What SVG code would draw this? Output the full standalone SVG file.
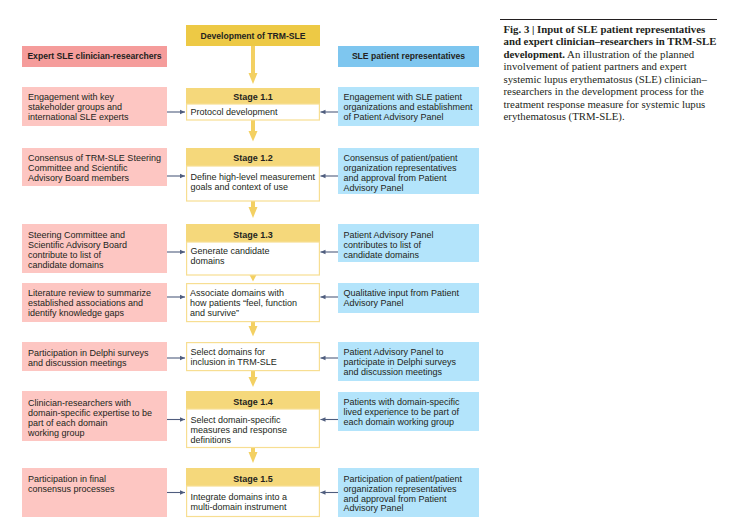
<svg xmlns="http://www.w3.org/2000/svg" width="737" height="525" viewBox="0 0 737 525">
<style>
.red{fill:#FDC6C2}
.blue{fill:#B3E4FB}
.sh{fill:#F5D87B}
.sw{fill:#fff;stroke:#F7DE92;stroke-width:1.2}
.t{font-family:"Liberation Sans",Arial,sans-serif;font-size:9px;fill:#231F20}
.b{font-family:"Liberation Sans",Arial,sans-serif;font-size:9px;font-weight:bold;fill:#231F20}
.hb{font-family:"Liberation Sans",Arial,sans-serif;font-size:8.6px;font-weight:bold;fill:#231F20}
.cap{font-family:"Liberation Serif","Times New Roman",serif;font-size:10.8px;fill:#231F20}
.capb{font-weight:bold}
.ya{stroke:#F3D062;stroke-width:4;fill:none}
.ga{stroke:#4F5D7E;stroke-width:1.1;fill:none}
</style>
<defs>
<marker id="ah" markerWidth="6" markerHeight="6" refX="5" refY="3" orient="auto" markerUnits="userSpaceOnUse">
<path d="M0,0.8 L5,3 L0,5.2 Z" fill="#4F5D7E"/>
</marker>
</defs>
<rect width="737" height="525" fill="#fff"/>

<g id="header-dev">
<rect x="186" y="25" width="134" height="21" fill="#EDC945"/>
<text class="hb" x="253" y="38.5" text-anchor="middle">Development of TRM-SLE</text>
</g>
<g id="header-expert">
<rect x="22" y="46" width="145" height="21" fill="#F59C9B"/>
<text class="hb" x="94.5" y="59" text-anchor="middle">Expert SLE clinician-researchers</text>
</g>
<g id="header-patient">
<rect x="338" y="46" width="141" height="21" fill="#7EC6EF"/>
<text class="hb" x="408.5" y="59" text-anchor="middle">SLE patient representatives</text>
</g>

<g id="connectors">
<g id="yellow-arrows" fill="#F3D062">
<line class="ya" x1="253" y1="46" x2="253" y2="77"/><path d="M248.5,73 L257.5,73 L253,84 Z"/>
<line class="ya" x1="253" y1="120" x2="253" y2="134"/><path d="M248.5,131 L257.5,131 L253,141.5 Z"/>
<line class="ya" x1="253" y1="201" x2="253" y2="210"/><path d="M248.5,207 L257.5,207 L253,218 Z"/>
<path d="M248.5,273 L257.5,273 L253,281.5 Z"/>
<line class="ya" x1="253" y1="322" x2="253" y2="329"/><path d="M248.5,326 L257.5,326 L253,336.5 Z"/>
<line class="ya" x1="253" y1="371" x2="253" y2="380"/><path d="M248.5,377 L257.5,377 L253,387 Z"/>
<line class="ya" x1="253" y1="448" x2="253" y2="455"/><path d="M248.5,452 L257.5,452 L253,463 Z"/>
</g>
<g id="side-arrows">
<line class="ga" x1="167" y1="112" x2="185" y2="112" marker-end="url(#ah)"/>
<line class="ga" x1="338" y1="112" x2="320.5" y2="112" marker-end="url(#ah)"/>
<line class="ga" x1="167" y1="176" x2="185" y2="176" marker-end="url(#ah)"/>
<line class="ga" x1="338" y1="176" x2="320.5" y2="176" marker-end="url(#ah)"/>
<line class="ga" x1="167" y1="252" x2="185" y2="252" marker-end="url(#ah)"/>
<line class="ga" x1="338" y1="252" x2="320.5" y2="252" marker-end="url(#ah)"/>
<line class="ga" x1="167" y1="297" x2="185" y2="297" marker-end="url(#ah)"/>
<line class="ga" x1="338" y1="297" x2="320.5" y2="297" marker-end="url(#ah)"/>
<line class="ga" x1="167" y1="358" x2="185" y2="358" marker-end="url(#ah)"/>
<line class="ga" x1="338" y1="358" x2="320.5" y2="358" marker-end="url(#ah)"/>
<line class="ga" x1="167" y1="419.5" x2="185" y2="419.5" marker-end="url(#ah)"/>
<line class="ga" x1="338" y1="419.5" x2="320.5" y2="419.5" marker-end="url(#ah)"/>
<line class="ga" x1="167" y1="492.5" x2="185" y2="492.5" marker-end="url(#ah)"/>
<line class="ga" x1="338" y1="492.5" x2="320.5" y2="492.5" marker-end="url(#ah)"/>
</g>
</g>

<!-- Row 1 -->
<g id="expert-1">
<rect class="red" x="22" y="87" width="145" height="39"/>
<text class="t" x="28" y="100">Engagement with key</text>
<text class="t" x="28" y="110">stakeholder groups and</text>
<text class="t" x="28" y="120">international SLE experts</text>
</g>
<g id="stage-1-1">
<rect class="sh" x="186" y="88" width="134" height="16"/>
<rect class="sw" x="186.6" y="104" width="132.8" height="16"/>
<text class="b" x="253" y="99.5" text-anchor="middle">Stage 1.1</text>
<text class="t" x="190.5" y="115">Protocol development</text>
</g>
<g id="patient-1">
<rect class="blue" x="338" y="87" width="141" height="39"/>
<text class="t" x="343.5" y="99.5">Engagement with SLE patient</text>
<text class="t" x="343.5" y="109.5">organizations and establishment</text>
<text class="t" x="343.5" y="119.5">of Patient Advisory Panel</text>
</g>

<!-- Row 2 -->
<g id="expert-2">
<rect class="red" x="22" y="148" width="145" height="38"/>
<text class="t" x="28" y="160.5">Consensus of TRM-SLE Steering</text>
<text class="t" x="28" y="170.5">Committee and Scientific</text>
<text class="t" x="28" y="180.5">Advisory Board members</text>
</g>
<g id="stage-1-2">
<rect class="sh" x="186" y="148" width="134" height="18"/>
<rect class="sw" x="186.6" y="166" width="132.8" height="35"/>
<text class="b" x="253" y="161" text-anchor="middle">Stage 1.2</text>
<text class="t" x="190.5" y="180">Define high-level measurement</text>
<text class="t" x="190.5" y="190">goals and context of use</text>
</g>
<g id="patient-2">
<rect class="blue" x="338" y="148" width="141" height="46"/>
<text class="t" x="343.5" y="160.5">Consensus of patient/patient</text>
<text class="t" x="343.5" y="170.5">organization representatives</text>
<text class="t" x="343.5" y="180.5">and approval from Patient</text>
<text class="t" x="343.5" y="190.5">Advisory Panel</text>
</g>

<!-- Row 3 -->
<g id="expert-3">
<rect class="red" x="22" y="224" width="145" height="49"/>
<text class="t" x="28" y="237.5">Steering Committee and</text>
<text class="t" x="28" y="247.5">Scientific Advisory Board</text>
<text class="t" x="28" y="257.5">contribute to list of</text>
<text class="t" x="28" y="267.5">candidate domains</text>
</g>
<g id="stage-1-3">
<rect class="sh" x="186" y="224" width="134" height="18"/>
<rect class="sw" x="186.6" y="242" width="132.8" height="33"/>
<text class="b" x="253" y="237.5" text-anchor="middle">Stage 1.3</text>
<text class="t" x="190.5" y="253.5">Generate candidate</text>
<text class="t" x="190.5" y="263.5">domains</text>
</g>
<g id="patient-3">
<rect class="blue" x="338" y="224" width="141" height="38"/>
<text class="t" x="343.5" y="237.5">Patient Advisory Panel</text>
<text class="t" x="343.5" y="247.5">contributes to list of</text>
<text class="t" x="343.5" y="257.5">candidate domains</text>
</g>

<!-- Row 4 -->
<g id="expert-4">
<rect class="red" x="22" y="283" width="145" height="39"/>
<text class="t" x="28" y="295.5">Literature review to summarize</text>
<text class="t" x="28" y="305.5">established associations and</text>
<text class="t" x="28" y="315.5">identify knowledge gaps</text>
</g>
<g id="step-associate">
<rect class="sw" x="186.6" y="283.6" width="132.8" height="38"/>
<text class="t" x="190" y="295.5">Associate domains with</text>
<text class="t" x="190" y="305.5">how patients “feel, function</text>
<text class="t" x="190" y="315.5">and survive”</text>
</g>
<g id="patient-4">
<rect class="blue" x="338" y="283" width="141" height="30"/>
<text class="t" x="343.5" y="295.5">Qualitative input from Patient</text>
<text class="t" x="343.5" y="305.5">Advisory Panel</text>
</g>

<!-- Row 5 -->
<g id="expert-5">
<rect class="red" x="22" y="342" width="145" height="29"/>
<text class="t" x="28" y="356">Participation in Delphi surveys</text>
<text class="t" x="28" y="366">and discussion meetings</text>
</g>
<g id="step-select">
<rect class="sw" x="186.6" y="342.6" width="132.8" height="28"/>
<text class="t" x="190.5" y="355">Select domains for</text>
<text class="t" x="190.5" y="365">inclusion in TRM-SLE</text>
</g>
<g id="patient-5">
<rect class="blue" x="338" y="342" width="141" height="39"/>
<text class="t" x="343.5" y="355">Patient Advisory Panel to</text>
<text class="t" x="343.5" y="365">participate in Delphi surveys</text>
<text class="t" x="343.5" y="375">and discussion meetings</text>
</g>

<!-- Row 6 -->
<g id="expert-6">
<rect class="red" x="22" y="391" width="145" height="50"/>
<text class="t" x="28" y="405.5">Clinician-researchers with</text>
<text class="t" x="28" y="415.5">domain-specific expertise to be</text>
<text class="t" x="28" y="425.5">part of each domain</text>
<text class="t" x="28" y="435.5">working group</text>
</g>
<g id="stage-1-4">
<rect class="sh" x="186" y="391" width="134" height="18"/>
<rect class="sw" x="186.6" y="409" width="132.8" height="38.5"/>
<text class="b" x="253" y="404.5" text-anchor="middle">Stage 1.4</text>
<text class="t" x="190.5" y="422.5">Select domain-specific</text>
<text class="t" x="190.5" y="432.5">measures and response</text>
<text class="t" x="190.5" y="442.5">definitions</text>
</g>
<g id="patient-6">
<rect class="blue" x="338" y="392" width="141" height="39"/>
<text class="t" x="343.5" y="404.5">Patients with domain-specific</text>
<text class="t" x="343.5" y="414.5">lived experience to be part of</text>
<text class="t" x="343.5" y="424.5">each domain working group</text>
</g>

<!-- Row 7 -->
<g id="expert-7">
<rect class="red" x="22" y="468" width="145" height="49"/>
<text class="t" x="28" y="481.5">Participation in final</text>
<text class="t" x="28" y="491.5">consensus processes</text>
</g>
<g id="stage-1-5">
<rect class="sh" x="186" y="468" width="134" height="18"/>
<rect class="sw" x="186.6" y="486" width="132.8" height="30.5"/>
<text class="b" x="253" y="481.5" text-anchor="middle">Stage 1.5</text>
<text class="t" x="190.5" y="500">Integrate domains into a</text>
<text class="t" x="190.5" y="510">multi-domain instrument</text>
</g>
<g id="patient-7">
<rect class="blue" x="338" y="468" width="141" height="49"/>
<text class="t" x="343.5" y="481.5">Participation of patient/patient</text>
<text class="t" x="343.5" y="491.5">organization representatives</text>
<text class="t" x="343.5" y="501.5">and approval from Patient</text>
<text class="t" x="343.5" y="511">Advisory Panel</text>
</g>

<g id="caption" class="cap">
<line x1="500" y1="19.5" x2="717" y2="19.5" stroke="#231F20" stroke-width="1"/>
<text x="503.5" y="32.5" class="capb">Fig. 3 | Input of SLE patient representatives</text>
<text x="503.5" y="45" class="capb">and expert clinician–researchers in TRM-SLE</text>
<text x="503.5" y="57.5"><tspan class="capb">development.</tspan> An illustration of the planned</text>
<text x="503.5" y="70">involvement of patient partners and expert</text>
<text x="503.5" y="82.5">systemic lupus erythematosus (SLE) clinician–</text>
<text x="503.5" y="95">researchers in the development process for the</text>
<text x="503.5" y="107.5">treatment response measure for systemic lupus</text>
<text x="503.5" y="120">erythematosus (TRM-SLE).</text>
</g>
</svg>
